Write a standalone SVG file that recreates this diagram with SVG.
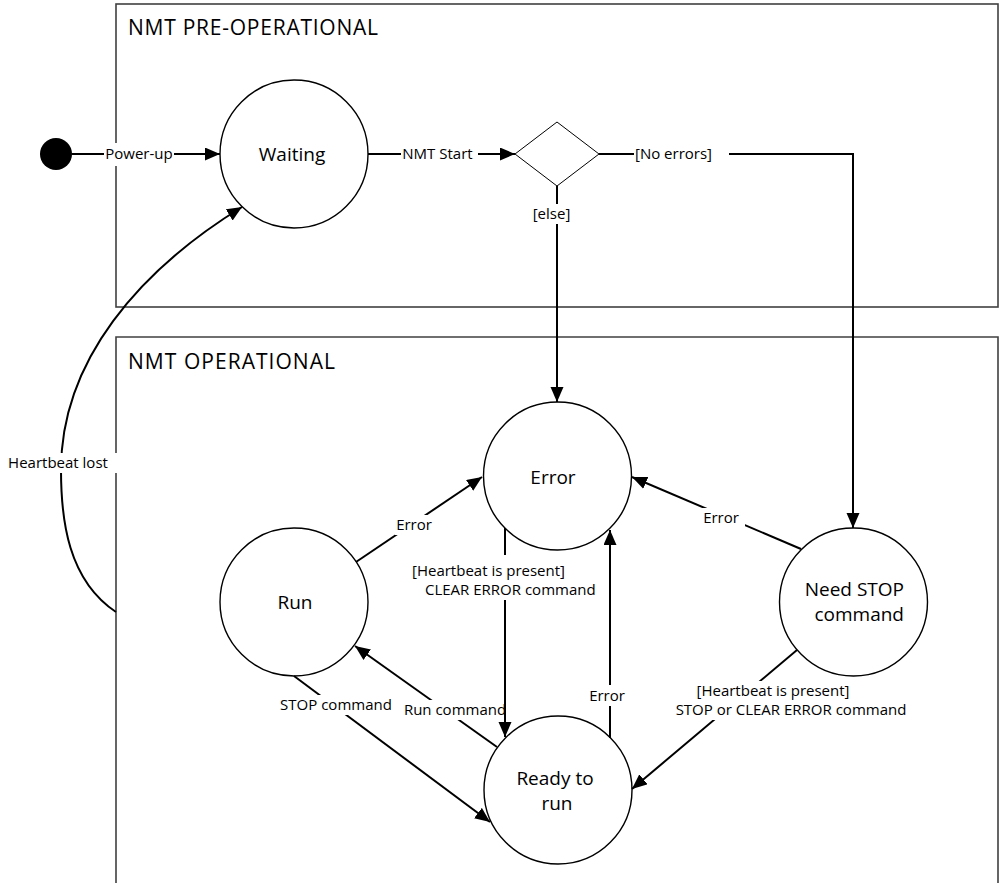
<svg xmlns="http://www.w3.org/2000/svg" width="1005" height="883" viewBox="0 0 1005 883">
<style>
.frame{fill:none;stroke:#404040;stroke-width:1.6}
.state{fill:#fff;stroke:#000;stroke-width:1.4}
.dec{fill:#fff;stroke:#000;stroke-width:1}
.edge{fill:none;stroke:#000;stroke-width:2;marker-end:url(#arr)}
.lb{fill:#fff}
text{font-family:"Open Sans","Liberation Sans",sans-serif;fill:#000}
.t{font-size:15px;text-anchor:middle}
.ts{font-size:15px}
.n{font-size:19px;text-anchor:middle}
.ne{font-size:19px;text-anchor:end}
.title{font-size:21px}
</style>
<defs>
<marker id="arr" markerUnits="userSpaceOnUse" markerWidth="16" markerHeight="14" refX="15" refY="6.5" orient="auto">
<path d="M0,0 L15,6.5 L0,13 z" fill="#000"/>
</marker>
</defs>
<rect width="1005" height="883" fill="#fff"/>
<g id="frame-preop">
<rect class="frame" x="116" y="4" width="882" height="303"/>
<text class="title" x="128" y="35" textLength="250" lengthAdjust="spacing">NMT PRE-OPERATIONAL</text>
</g>
<g id="frame-op">
<path class="frame" d="M116,890 V337 H998 V890"/>
<text class="title" x="128" y="369" textLength="207" lengthAdjust="spacing">NMT OPERATIONAL</text>
</g>
<g id="initial"><circle cx="56" cy="154" r="16" fill="#000"/></g>
<g id="waiting"><circle class="state" cx="294" cy="154" r="74"/><text class="n" x="292" y="161">Waiting</text></g>
<g id="decision"><path class="dec" d="M515,154 L557,122 L599,154 L557,186 z"/></g>
<g id="error"><circle class="state" cx="557.5" cy="476" r="74"/><text class="n" x="553" y="484">Error</text></g>
<g id="run"><circle class="state" cx="294" cy="602" r="74"/><text class="n" x="295" y="609">Run</text></g>
<g id="needstop"><circle class="state" cx="853.5" cy="602" r="74"/><text class="ne" x="904" y="596">Need STOP</text><text class="ne" x="904" y="621">command</text></g>
<g id="ready"><circle class="state" cx="558" cy="790" r="74"/><text class="n" x="555" y="785">Ready to</text><text class="n" x="557" y="810">run</text></g>
<g id="connectors">
<path class="edge" d="M72,154 H220"/>
<rect class="lb" x="104" y="143" width="70" height="23"/>
<text class="t" x="139" y="159">Power-up</text>

<path class="edge" d="M368,154 H515"/>
<rect class="lb" x="401" y="145" width="77" height="18"/>
<text class="t" x="437.5" y="159">NMT Start</text>

<path class="edge" d="M599,154 H853 V528"/>
<rect class="lb" x="634" y="145" width="95" height="18"/>
<text class="t" x="673.5" y="159">[No errors]</text>

<path class="edge" d="M557,186 V402"/>
<rect class="lb" x="531" y="204" width="41" height="20"/>
<text class="t" x="551.5" y="219">[else]</text>

<path class="edge" d="M356,562 L482,477"/>
<rect class="lb" x="395" y="515" width="38" height="20"/>
<text class="t" x="414" y="530">Error</text>

<path class="edge" d="M801,549 L632,477"/>
<rect class="lb" x="701" y="508" width="44" height="20"/>
<text class="t" x="721" y="523">Error</text>

<path class="edge" d="M294,676 L490,822"/>
<rect class="lb" x="278" y="695" width="116" height="20"/>
<text class="t" x="336" y="710">STOP command</text>

<path class="edge" d="M497,747 L355,646"/>
<rect class="lb" x="401" y="700" width="106" height="20"/>
<text class="t" x="455" y="715">Run command</text>

<path class="edge" d="M505,528 V737"/>
<rect class="lb" x="410" y="555" width="191" height="45"/>
<text class="ts" x="412" y="576">[Heartbeat is present]</text>
<text class="ts" x="425" y="595">CLEAR ERROR command</text>

<path class="edge" d="M610,738 V530"/>
<rect class="lb" x="588" y="685" width="38" height="21"/>
<text class="t" x="607" y="701">Error</text>

<path class="edge" d="M797,650 L632,789"/>
<rect class="lb" x="671" y="681" width="241" height="39"/>
<text class="t" x="773" y="696">[Heartbeat is present]</text>
<text class="t" x="791" y="715">STOP or CLEAR ERROR command</text>

<path class="edge" d="M116,612 C68,580 61,520 61,470 C61,360 140,270 242,207"/>
<rect class="lb" x="5" y="453" width="113" height="20"/>
<text class="t" x="58" y="468">Heartbeat lost</text>
</g>
</svg>
